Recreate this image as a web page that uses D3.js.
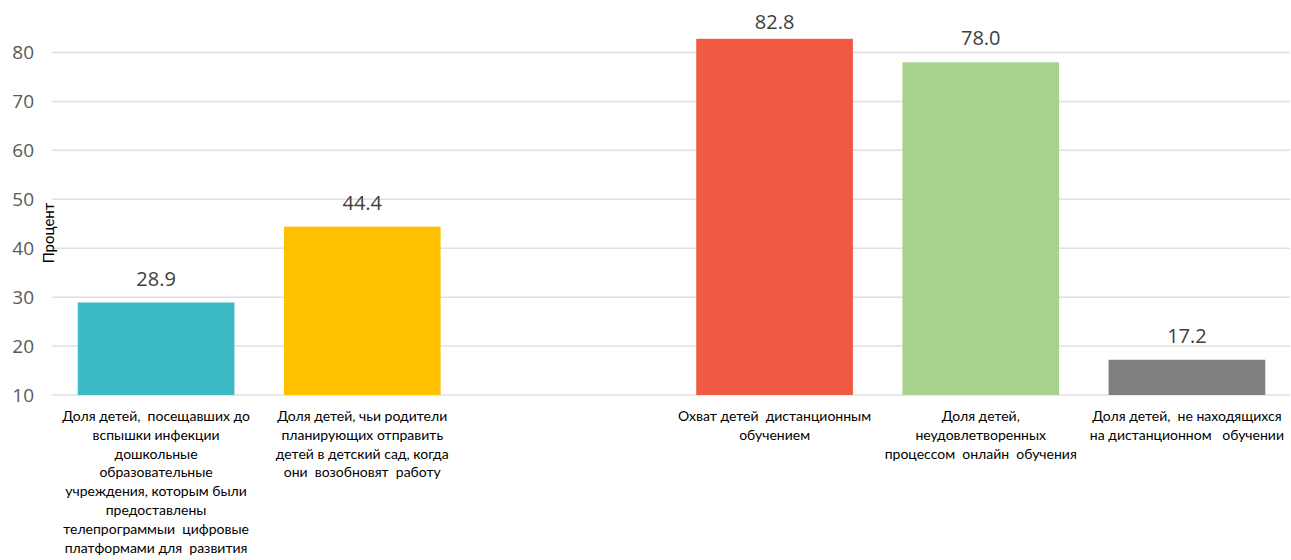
<!DOCTYPE html>
<html>
<head>
<meta charset="utf-8">
<script src="https://cdn.jsdelivr.net/npm/d3@7"></script>
<style>
  body { margin: 0; background: #fff; }
  svg text { font-family: Lato, "Open Sans", sans-serif; }
</style>
</head>
<body>
<div id="chart"></div>
<script>
// Data
var categories = [
  "Доля детей,  посещавших до\nвспышки инфекции\nдошкольные\nобразовательные\nучреждения, которым были\nпредоставлены\nтелепрограммыи  цифровые\nплатформами для  развития",
  "Доля детей, чьи родители\nпланирующих отправить\nдетей в детский сад, когда\nони  возобновят  работу",
  "",
  "Охват детей  дистанционным\nобучением",
  "Доля детей,\nнеудовлетворенных\nпроцессом  онлайн  обучения",
  "Доля детей,  не находящихся\nна дистанционном   обучении"
];
var values = [28.9, 44.4, null, 82.8, 78.0, 17.2];
var colors = ["#3bb9c6", "#ffc000", "none", "#f15a42", "#a9d18e", "#7f7f7f"];
var yTicks = [10, 20, 30, 40, 50, 60, 70, 80];
var yTitle = "Процент";

var width = 1291, height = 560;

var svg = d3.select('#chart')
  .append('svg')
  .attr('width', width)
  .attr('height', height);

var xScale = d3.scaleBand()
  .domain(d3.range(categories.length))
  .range([53, 1290])
  .paddingInner(0.24)
  .paddingOuter(0.12);

var yScale = d3.scaleLinear()
  .domain([10, 80])
  .range([395, 52.5]);

// Gridlines
svg.append('g')
  .selectAll('line')
  .data(yTicks)
  .enter()
  .append('line')
  .attr('x1', 52)
  .attr('x2', 1290)
  .attr('y1', function (d) { return yScale(d); })
  .attr('y2', function (d) { return yScale(d); })
  .attr('stroke', '#e0e0e0')
  .attr('stroke-width', 1.5);

// Y axis labels
var yAxis = d3.axisLeft(yScale)
  .tickValues(yTicks)
  .tickSize(0)
  .tickPadding(0);
var yAxisG = svg.append('g')
  .attr('transform', 'translate(34,0)')
  .call(yAxis);
yAxisG.select('.domain').remove();
yAxisG.selectAll('text')
  .attr('fill', '#595959')
  .attr('font-size', 19)
  .style('font-family', '"Open Sans", sans-serif');

// Y title
svg.append('text')
  .attr('transform', 'translate(54,233)rotate(-90)')
  .attr('text-anchor', 'middle')
  .attr('font-size', 15)
  .attr('fill', '#000')
  .text(yTitle);

// Bars
var barData = values.map(function (v, i) { return { i: i, v: v }; })
  .filter(function (d) { return d.v !== null; });

svg.append('g')
  .selectAll('rect')
  .data(barData)
  .enter()
  .append('rect')
  .attr('x', function (d) { return xScale(d.i); })
  .attr('width', xScale.bandwidth())
  .attr('y', function (d) { return yScale(d.v); })
  .attr('height', function (d) { return yScale(10) - yScale(d.v); })
  .attr('fill', function (d) { return colors[d.i]; });

// Value labels (kept inside the plot area at the top, like Excel)
svg.append('g')
  .selectAll('text')
  .data(barData)
  .enter()
  .append('text')
  .attr('x', function (d) { return xScale(d.i) + xScale.bandwidth() / 2; })
  .attr('y', function (d) { return Math.max(yScale(d.v) - 17, 29); })
  .attr('text-anchor', 'middle')
  .attr('font-size', 20)
  .attr('fill', '#404040')
  .style('font-family', '"Open Sans", sans-serif')
  .text(function (d) { return d.v.toFixed(1); });

// Category labels
var catG = svg.append('g')
  .selectAll('text')
  .data(categories)
  .enter()
  .append('text')
  .attr('text-anchor', 'middle')
  .attr('font-size', 14)
  .attr('fill', '#000');

catG.each(function (label, i) {
  var cx = xScale(i) + xScale.bandwidth() / 2;
  d3.select(this).selectAll('tspan')
    .data(label ? label.split('\n') : [])
    .enter()
    .append('tspan')
    .attr('x', cx)
    .attr('y', function (d, j) { return 421 + j * 18.8; })
    .style('white-space', 'pre')
    .text(function (d) { return d; });
});
</script>
</body>
</html>
